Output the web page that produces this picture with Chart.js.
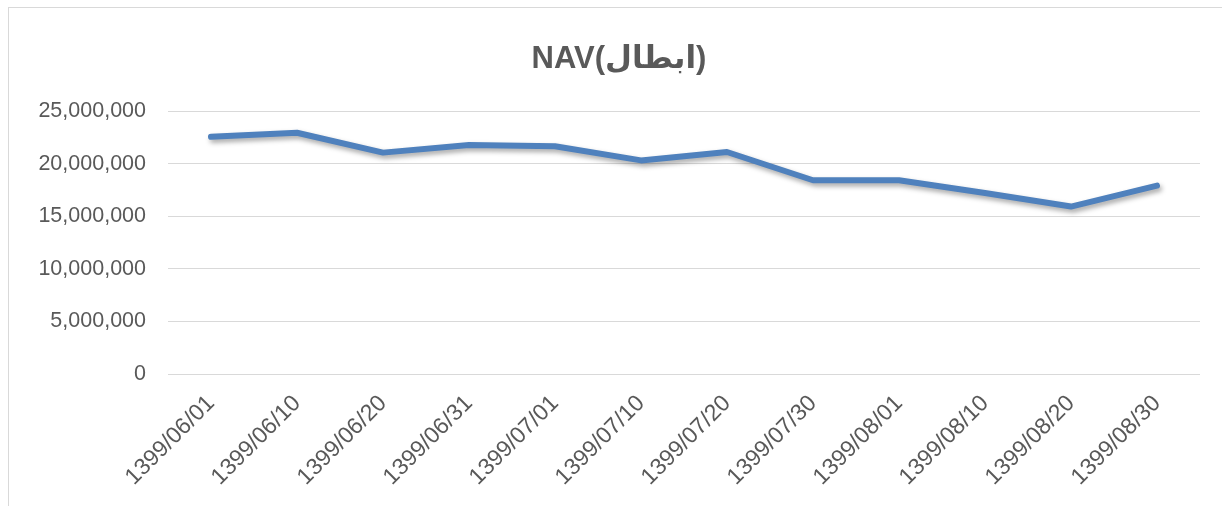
<!DOCTYPE html>
<html>
<head>
<meta charset="utf-8">
<script src="https://cdn.jsdelivr.net/npm/chart.js@4/dist/chart.umd.min.js"></script>
<style>
  html, body { margin: 0; padding: 0; background: #ffffff; }
  #wrap { position: relative; width: 1222px; height: 506px; overflow: hidden; }
  #frame { position: absolute; left: 8px; top: 7px; width: 1300px; height: 600px;
           border-top: 1px solid #d9d9d9; border-left: 1px solid #d9d9d9; }
  canvas { position: absolute; left: 0; top: 0; }
</style>
</head>
<body>
<div id="wrap">
  <div id="frame"></div>
  <canvas id="c" width="1222" height="506"></canvas>
</div>
<script>
const categories = ['1399/06/01','1399/06/10','1399/06/20','1399/06/31','1399/07/01','1399/07/10',
                    '1399/07/20','1399/07/30','1399/08/01','1399/08/10','1399/08/20','1399/08/30'];
const navValues = [22560000, 22950000, 21060000, 21790000, 21670000, 20320000,
                   21120000, 18430000, 18430000, 17210000, 15930000, 17920000];
const yTicks = [0, 5000000, 10000000, 15000000, 20000000, 25000000];
const titleText = 'NAV(ابطال)';

const shadowPlugin = {
  id: 'lineShadow',
  beforeDatasetsDraw(chart) {
    const ctx = chart.ctx;
    ctx.save();
    ctx.shadowColor = 'rgba(0,0,0,0.35)';
    ctx.shadowBlur = 5;
    ctx.shadowOffsetX = 2;
    ctx.shadowOffsetY = 3;
  },
  afterDatasetsDraw(chart) {
    chart.ctx.restore();
  }
};

new Chart(document.getElementById('c'), {
  type: 'line',
  data: {
    labels: categories,
    datasets: [{
      data: navValues,
      borderColor: '#4f81bd',
      borderWidth: 6,
      borderCapStyle: 'round',
      borderJoinStyle: 'round',
      pointRadius: 0,
      pointHoverRadius: 0,
      tension: 0,
      fill: false
    }]
  },
  plugins: [shadowPlugin],
  options: {
    responsive: false,
    animation: false,
    devicePixelRatio: 1,
    layout: { padding: { left: 38, right: 22, top: 0, bottom: 0 } },
    plugins: {
      legend: { display: false },
      tooltip: { enabled: false },
      title: {
        display: true,
        text: titleText,
        color: '#595959',
        font: { family: '"Liberation Sans", "DejaVu Sans", Arial, sans-serif', size: 31, weight: 'bold' },
        padding: { top: 41, bottom: 33 }
      }
    },
    scales: {
      x: {
        offset: true,
        grid: { display: false, drawTicks: false },
        border: { display: false },
        ticks: {
          autoSkip: false,
          maxRotation: 45,
          minRotation: 45,
          padding: 16,
          color: '#595959',
          font: { family: '"Liberation Sans", Arial, sans-serif', size: 23 }
        },
        afterFit(scale) { scale.height = 132; }
      },
      y: {
        min: 0,
        max: 25000000,
        afterBuildTicks(scale) { scale.ticks = yTicks.map(v => ({ value: v })); },
        grid: { color: '#d9d9d9', lineWidth: 1, drawTicks: false },
        border: { display: false },
        ticks: {
          padding: 22,
          color: '#595959',
          font: { family: '"Liberation Sans", Arial, sans-serif', size: 21.5 },
          callback: v => Number(v).toLocaleString('en-US')
        },
        afterFit(scale) { scale.width = 130; }
      }
    }
  }
});
</script>
</body>
</html>
